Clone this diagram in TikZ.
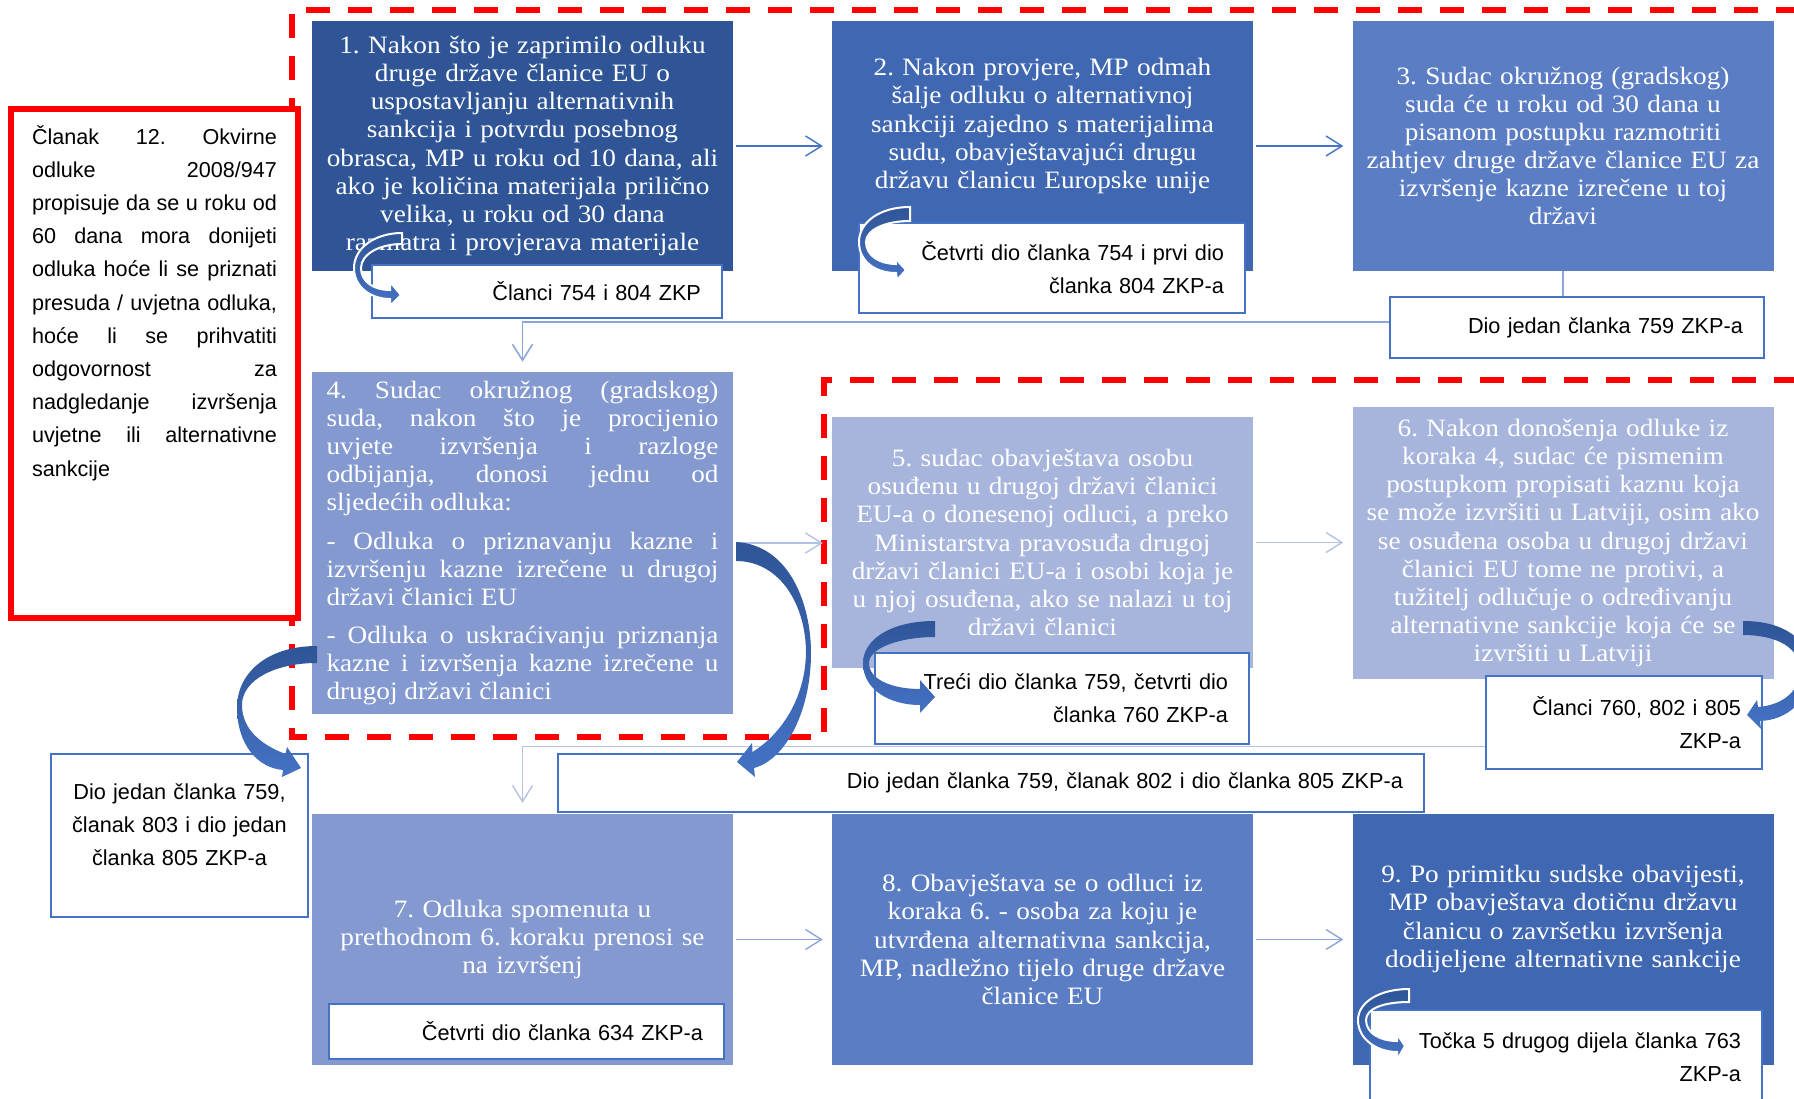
\documentclass[tikz,border=0pt]{standalone}
\usepackage{fontspec}
\setmainfont{Liberation Serif}[FakeStretch=1.09]
\newfontfamily\labelsans{Liberation Sans}
\usetikzlibrary{arrows.meta}

\setlength\parindent{0pt}
\frenchspacing
\tolerance=10000
\hbadness=10000
\hyphenpenalty=10000

\definecolor{stepA}{HTML}{2F5597}
\definecolor{stepB}{HTML}{4068B2}
\definecolor{stepC}{HTML}{5B7DC4}
\definecolor{stepD}{HTML}{8399CF}
\definecolor{stepE}{HTML}{A7B5DD}
\definecolor{refblue}{HTML}{4472C4}
\definecolor{flowdark}{HTML}{4472C4}
\definecolor{flowmid}{HTML}{8CA5DA}
\definecolor{flowlight}{HTML}{B4C2E6}
\definecolor{bendtop}{HTML}{2F5597}
\definecolor{bendbot}{HTML}{4472C4}

\begin{document}
\begin{tikzpicture}[x=1pt,y=-1pt,
  stepbox/.style={rectangle,minimum width=421pt,inner sep=0pt,text=white,
    align=center,text width=410pt,font={\fontsize{25}{28.1}\selectfont}},
  refbox/.style={draw=refblue,line width=2.5pt,fill=white,inner xsep=21pt,
    inner ysep=0pt,align=right,font={\labelsans\fontsize{21.7}{33}\selectfont}},
  flow/.style={-{Straight Barb[length=16pt,width=20pt]},line width=1.4pt},
  curvefill/.style={top color=bendtop,bottom color=bendbot},
  curvewhite/.style={curvefill,draw=white,line width=2pt}]

\useasboundingbox (0,0) rectangle (1794,1099);

% red dashed frame
\draw[red,line width=5.5pt,dash pattern=on 24pt off 18pt]
  (1800,10) -- (292,10) -- (292,737) -- (824,737) -- (824,380) -- (1800,380);

\node[draw=red,line width=6pt,fill=white,minimum width=287pt,minimum height=509pt,
  inner sep=0pt,text width=245pt,align=justify,
  font={\labelsans\fontsize{21.6}{33.2}\selectfont}] (art12) at (154.5,363.5)
  {Članak 12. Okvirne\linebreak odluke 2008/947\linebreak propisuje da se u roku od\linebreak
   60 dana mora donijeti\linebreak odluka hoće li se priznati\linebreak
   presuda / uvjetna odluka,\linebreak hoće li se prihvatiti\linebreak
   odgovornost za\linebreak nadgledanje izvršenja\linebreak
   uvjetne ili alternativne\linebreak sankcije\par\vspace{121pt}\hrule height 0pt};

% steps
\node[stepbox,fill=stepA,minimum height=250pt] (s1) at (522.5,146)
  {1. Nakon što je zaprimilo odluku\\ druge države članice EU o\\ uspostavljanju alternativnih\\
   sankcija i potvrdu posebnog\\ obrasca, MP u roku od 10 dana, ali\\
   ako je količina materijala prilično\\ velika, u roku od 30 dana\\ razmatra i provjerava materijale};
\node[stepbox,fill=stepB,minimum height=250pt] (s2) at (1042.5,146)
  {2. Nakon provjere, MP odmah\\ šalje odluku o alternativnoj\\ sankciji zajedno s materijalima\\
   sudu, obavještavajući drugu\\ državu članicu Europske unije\par\vspace{40pt}\hrule height 0pt};
\node[stepbox,fill=stepC,minimum height=250pt] (s3) at (1563,146)
  {3. Sudac okružnog (gradskog)\\ suda će u roku od 30 dana u\\ pisanom postupku razmotriti\\
   zahtjev druge države članice EU za\\ izvršenje kazne izrečene u toj\\ državi};
\node[stepbox,fill=stepD,minimum height=342pt,align=justify,text width=392pt] (s4) at (522.5,543)
  {4. Sudac okružnog (gradskog)\linebreak suda, nakon što je procijenio\linebreak
   uvjete izvršenja i razloge\linebreak odbijanja, donosi jednu od\linebreak
   sljedećih odluka:\par\vspace{10pt}
   - Odluka o priznavanju kazne i\linebreak izvršenju kazne izrečene u drugoj\linebreak
   državi članici EU\par\vspace{10pt}
   - Odluka o uskraćivanju priznanja\linebreak kazne i izvršenja kazne izrečene u\linebreak
   drugoj državi članici};
\node[stepbox,fill=stepE,minimum height=251pt] (s5) at (1042.5,542.5)
  {5. sudac obavještava osobu\\ osuđenu u drugoj državi članici\\ EU-a o donesenoj odluci, a preko\\
   Ministarstva pravosuđa drugoj\\ državi članici EU-a i osobi koja je\\
   u njoj osuđena, ako se nalazi u toj\\ državi članici};
\node[stepbox,fill=stepE,minimum height=272pt] (s6) at (1563,543)
  {6. Nakon donošenja odluke iz\\ koraka 4, sudac će pismenim\\ postupkom propisati kaznu koja\\
   se može izvršiti u Latviji, osim ako\\ se osuđena osoba u drugoj državi\\
   članici EU tome ne protivi, a\\ tužitelj odlučuje o određivanju\\
   alternativne sankcije koja će se\\ izvršiti u Latviji};
\node[stepbox,fill=stepD,minimum height=251pt] (s7) at (522.5,939.5)
  {7. Odluka spomenuta u\\ prethodnom 6. koraku prenosi se\\ na izvršenj};
\node[stepbox,fill=stepC,minimum height=251pt] (s8) at (1042.5,939.5)
  {8. Obavještava se o odluci iz\\ koraka 6. - osoba za koju je\\ utvrđena alternativna sankcija,\\
   MP, nadležno tijelo druge države\\ članice EU};
\node[stepbox,fill=stepB,minimum height=251pt] (s9) at (1563,939.5)
  {9. Po primitku sudske obavijesti,\\ MP obavještava dotičnu državu\\ članicu o završetku izvršenja\\
   dodijeljene alternativne sankcije\par\vspace{41pt}\hrule height 0pt};

% connectors
\draw[flow,draw=flowdark,shorten <=3pt,shorten >=9pt] (s1) -- (s2);
\draw[flow,draw=flowdark,shorten <=3pt,shorten >=9pt] (s2) -- (s3);
\draw[flow,draw=flowlight,shorten <=3pt,shorten >=9pt] (s4.east) -- (s4.east -| s5.west);
\draw[flow,draw=flowlight,shorten <=3pt,shorten >=9pt] (s5.east) -- (s5.east -| s6.west);
\draw[flow,draw=flowmid,shorten <=3pt,shorten >=9pt] (s7) -- (s8);
\draw[flow,draw=flowmid,shorten <=3pt,shorten >=9pt] (s8) -- (s9);
\draw[flow,draw=flowmid,line width=1.6pt,shorten >=10pt] (s3.south) -- ++(0,51) -| (s4.north);
\draw[flow,draw=flowlight,line width=1.4pt,shorten >=11pt] (s6.south) -- ++(0,67) -| (s7.north);

% references
\node[refbox,minimum width=350pt,minimum height=53pt,text width=308pt] (r1) at (547,291.5)
  {Članci 754 i 804 ZKP};
\node[refbox,minimum width=386pt,minimum height=90pt,text width=344pt] (r2) at (1052,268)
  {Četvrti dio članka 754 i prvi dio\\ članka 804 ZKP-a};
\node[refbox,minimum width=374pt,minimum height=61pt,text width=332pt] (r3) at (1577,327.5)
  {Dio jedan članka 759 ZKP-a};
\node[refbox,minimum width=374pt,minimum height=91pt,text width=332pt] (r5) at (1062,698.5)
  {Treći dio članka 759, četvrti dio\\ članka 760 ZKP-a};
\node[refbox,minimum width=276pt,minimum height=93pt,text width=234pt] (r6) at (1624,722.5)
  {Članci 760, 802 i 805\\ ZKP-a};
\node[refbox,minimum width=866pt,minimum height=58pt,text width=824pt] (r4b) at (991,783)
  {Dio jedan članka 759, članak 802 i dio članka 805 ZKP-a};
\node[refbox,align=center,inner xsep=10pt,minimum width=257pt,minimum height=163pt,
  text width=237pt] (r4a) at (179.5,835.5)
  {Dio jedan članka 759,\\ članak 803 i dio jedan\\ članka 805 ZKP-a\par\vspace{21pt}\hrule height 0pt};
\node[refbox,minimum width=395pt,minimum height=55pt,text width=353pt] (r7) at (526.5,1031.5)
  {Četvrti dio članka 634 ZKP-a};
\node[refbox,minimum width=392pt,minimum height=94pt,text width=350pt] (r9) at (1566,1057)
  {Točka 5 drugog dijela članka 763\\ ZKP-a};

% curved arrows
\shadedraw[curvewhite] (402,233) .. controls (375,233) and (354,248) .. (354,268)
  .. controls (354,288) and (372,299) .. (390,299) -- (390,306) -- (401,295) -- (390,282)
  -- (390,290) .. controls (374,290) and (361,282) .. (361,268)
  .. controls (361,254) and (380,244) .. (402,244) -- cycle;
\shadedraw[curvewhite] (910,207) .. controls (880,207) and (859,222) .. (859,242)
  .. controls (859,262) and (876,273) .. (896,273) -- (897,280) -- (906,270) -- (895,258)
  -- (896,264) .. controls (880,264) and (866,256) .. (866,242)
  .. controls (866,230) and (885,221) .. (910,221) -- cycle;
\shade[curvefill] (317,646) .. controls (265,646) and (237,675) .. (237,707)
  .. controls (237,745) and (258,768) .. (283,770) -- (282,777) -- (301,768) -- (287,747)
  -- (285.5,754) .. controls (262,745) and (242,730) .. (242,705)
  .. controls (242,680) and (275,663) .. (317,663) -- cycle;
\shade[curvefill] (736,542) .. controls (790,545) and (811,605) .. (811,653)
  .. controls (811,712) and (785,760) .. (754,768) -- (755,777) -- (737,762) -- (752,743)
  -- (752.5,752) .. controls (780,735) and (805,700) .. (806,653)
  .. controls (806,605) and (780,561) .. (736,561) -- cycle;
\shade[curvefill] (935,621) .. controls (890,621) and (863,640) .. (863,663)
  .. controls (863,690) and (890,705) .. (920,705) -- (920,713) -- (935,697) -- (920,680)
  -- (920,689) .. controls (893,689) and (869,680) .. (869,663)
  .. controls (869,648) and (900,637) .. (935,637) -- cycle;
\shade[curvefill] (1743,621) .. controls (1785,621) and (1810,640) .. (1810,670)
  .. controls (1810,700) and (1788,720) .. (1760,721) -- (1761,729) -- (1747,715) -- (1757,700)
  -- (1758,707) .. controls (1784,705) and (1800,690) .. (1800,670)
  .. controls (1800,648) and (1777,635) .. (1743,635) -- cycle;
\shadedraw[curvewhite] (1409,989) .. controls (1380,989) and (1358,1002) .. (1358,1020)
  .. controls (1358,1040) and (1378,1052) .. (1397,1052) -- (1397,1060) -- (1405,1046) -- (1397,1034)
  -- (1397,1041) .. controls (1380,1041) and (1366,1033) .. (1366,1020)
  .. controls (1366,1008) and (1385,1002) .. (1409,1002) -- cycle;

\end{tikzpicture}
\end{document}
